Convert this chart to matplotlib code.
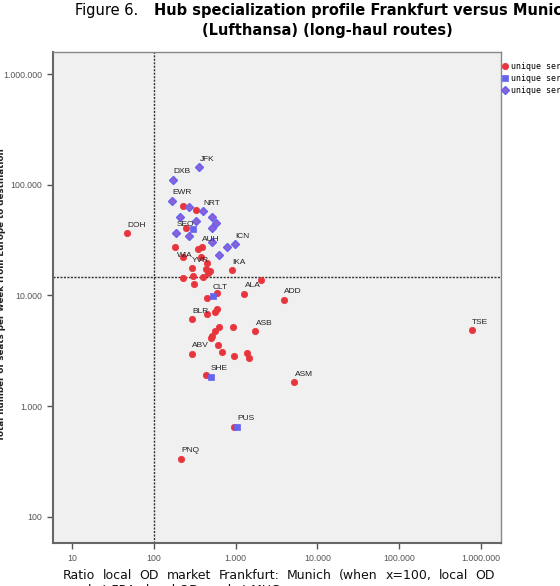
import matplotlib
matplotlib.use("Agg")
import matplotlib.pyplot as plt
from matplotlib.ticker import FixedLocator, FuncFormatter, NullLocator

# ---------------- data ----------------
# unique service FRA (red circles)
fra_x = [46.4, 228, 324, 246, 179, 348, 383, 228, 376, 449, 289, 433, 484, 461, 891,
         224, 303, 401, 2056, 311, 585, 1273, 3860, 441, 585, 562, 441, 294, 630, 933,
         1734, 769000, 562, 516, 498, 612, 684, 289, 944, 1383, 1438, 433, 5200, 953, 212]
fra_y = [36400, 64500, 59000, 40400, 27200, 26100, 27200, 22400, 22400, 19500, 17600, 17300,
         16600, 15800, 16900, 14300, 15000, 14600, 13800, 12600, 10400, 10300, 9140, 9420,
         7530, 7130, 6790, 6090, 5150, 5210, 4740, 4840, 4770, 4300, 4090, 3570, 3100, 2970,
         2840, 3030, 2700, 1910, 1640, 652, 333]
fra_lab = ["DOH", "", "", "", "", "", "AUH", "WIA", "", "", "YVR", "", "", "", "IKA",
           "", "", "", "", "", "", "ALA", "ADD", "", "", "", "", "BLR", "", "",
           "ASB", "TSE", "", "", "", "", "", "ABV", "", "", "", "", "ASM", "", "PNQ"]

# unique service MUC (blue squares)
muc_x = [296, 522, 494, 1028]
muc_y = [39500, 9930, 1845, 652]
muc_lab = ["", "CLT", "SHE", "PUS"]

# both (diamonds)
both_x = [358, 169, 168, 270, 395, 208, 512, 324, 569, 512, 186, 266, 516, 980, 774, 624]
both_y = [143600, 110300, 71700, 62500, 57800, 51400, 51400, 47000, 44800, 40400, 36800,
          34400, 30300, 29100, 27200, 23300]
both_lab = ["JFK", "DXB", "EWR", "", "NRT", "", "", "", "", "", "SEO", "", "", "ICN", "", ""]

legend_labels = ["unique service FRA", "unique service MUC", "unique service both"]
x_ticks = [10, 100, 1000, 10000, 100000, 1000000]
y_ticks = [100, 1000, 10000, 100000, 1000000]
x_ref = 100
y_ref = 14600

title_plain = "Figure 6."
title_bold1 = "Hub specialization profile Frankfurt versus Munich"
title_bold2 = "(Lufthansa) (long-haul routes)"
ylabel = "Total number of seats per week from Europe to destination"
caption1 = "Ratio local OD market Frankfurt: Munich (when x=100, local OD"
caption2 = "market FRA=local OD market MUC"

# ---------------- figure ----------------
W, H = 560, 586
fig = plt.figure(figsize=(W / 100, H / 100), dpi=100)
fig.patch.set_facecolor("white")

L, R, T, B = 53.3, 501, 52, 542.7
ax = fig.add_axes([L / W, 1 - B / H, (R - L) / W, (B - T) / H])
ax.set_facecolor("#f0f0f0")
ax.set_xscale("log")
ax.set_yscale("log")
ax.set_xlim(10 ** 0.768, 10 ** 6.245)
ax.set_ylim(10 ** 1.765, 10 ** 6.199)

red = "#e8343c"
blue = "#6464f0"
purple = "#9060d8"

h1, = ax.plot(fra_x, fra_y, "o", ms=4.6, mfc=red, mec=red, mew=0.5, ls="none", zorder=3)
h2, = ax.plot(muc_x, muc_y, "s", ms=4.3, mfc=blue, mec=blue, mew=0.5, ls="none", zorder=4)
h3, = ax.plot(both_x, both_y, "D", ms=4.3, mfc=purple, mec=blue, mew=1.0, ls="none", zorder=4)

ax.axvline(x_ref, color="#333333", lw=1.0, ls=(0, (1.5, 1.0)), zorder=2)
ax.axhline(y_ref, color="#333333", lw=1.0, ls=(0, (1.5, 1.0)), zorder=2)

px = 0.72  # points per pixel
special = {"WIA": (-6, 1.4)}
for xs, ys, labs in [(fra_x, fra_y, fra_lab), (muc_x, muc_y, muc_lab), (both_x, both_y, both_lab)]:
    for xv, yv, lb in zip(xs, ys, labs):
        if not lb:
            continue
        dx, dy = special.get(lb, (0.3, 8.0))
        ax.annotate(lb, (xv, yv), xytext=(dx * px, dy * px), textcoords="offset points",
                    ha="left", va="center", fontsize=6, color="#222222", zorder=5,
                    family="Liberation Sans")

def fmt(v, pos):
    return f"{int(round(v)):,}".replace(",", ".")

ax.xaxis.set_major_locator(FixedLocator(x_ticks))
ax.yaxis.set_major_locator(FixedLocator(y_ticks))
ax.xaxis.set_minor_locator(NullLocator())
ax.yaxis.set_minor_locator(NullLocator())
ax.xaxis.set_major_formatter(FuncFormatter(fmt))
ax.yaxis.set_major_formatter(FuncFormatter(fmt))
ax.tick_params(axis="both", direction="out", length=4, width=1, color="#555555",
               labelsize=6.3, labelcolor="#555555", pad=4)
for lab in ax.get_xticklabels() + ax.get_yticklabels():
    lab.set_family("Liberation Sans")

for side in ["left", "bottom"]:
    ax.spines[side].set_color("#666666")
    ax.spines[side].set_linewidth(1.5)
for side in ["top", "right"]:
    ax.spines[side].set_color("#888888")
    ax.spines[side].set_linewidth(1.0)

leg = ax.legend([h1, h2, h3], legend_labels, loc="upper left",
                bbox_to_anchor=(502 / W, 1 - 62 / H), bbox_transform=fig.transFigure,
                frameon=False, handlelength=0.8, handletextpad=0.3,
                labelspacing=0.35, borderaxespad=0, borderpad=0,
                prop={"family": "DejaVu Sans Mono", "size": 6})

# y label
fig.text(1.5 / W, 1 - 295 / H, ylabel, rotation=90, ha="center", va="center",
         fontsize=6.3, fontweight="bold", color="#222222")

# title
fig.text(75 / W, 1 - 11 / H, title_plain, ha="left", va="center", fontsize=10.5)
fig.text(154 / W, 1 - 11 / H, title_bold1, ha="left", va="center", fontsize=10.5, fontweight="bold")
fig.text(327 / W, 1 - 30 / H, title_bold2, ha="center", va="center", fontsize=10.5, fontweight="bold")

# caption line 1, justified between x0 and x1
fig.canvas.draw()
renderer = fig.canvas.get_renderer()
words = caption1.split(" ")
x0, x1 = 63, 495
cap_fs = 9
tmp = [fig.text(0, 0, w, fontsize=cap_fs) for w in words]
widths = [t.get_window_extent(renderer).width for t in tmp]
for t in tmp:
    t.remove()
gap = (x1 - x0 - sum(widths)) / (len(words) - 1)
xc = x0
for w, wd in zip(words, widths):
    fig.text(xc / W, 1 - 579 / H, w, ha="left", va="baseline", fontsize=cap_fs, color="#111111")
    xc += wd + gap
fig.text(x0 / W, 1 - 583.5 / H, caption2, ha="left", va="top", fontsize=cap_fs, color="#111111")

fig.savefig("out.png", dpi=100, facecolor="white")
